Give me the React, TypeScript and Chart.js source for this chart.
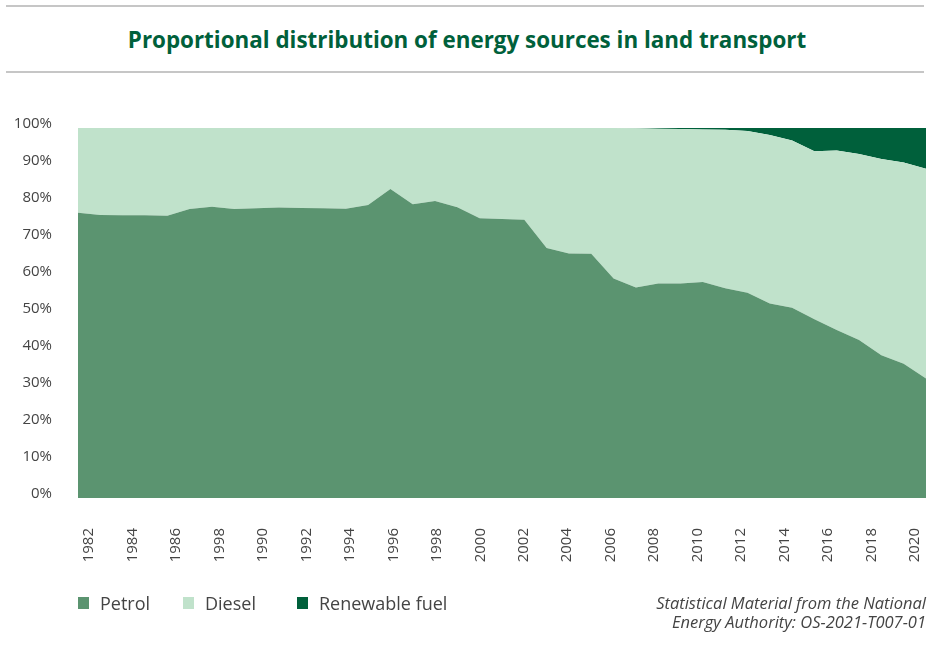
import React, { useEffect, useRef } from "react";
import { Chart, registerables } from "chart.js";

Chart.register(...registerables);

const years = [
  "1982", "1983", "1984", "1985", "1986", "1987", "1988", "1989", "1990", "1991",
  "1992", "1993", "1994", "1995", "1996", "1997", "1998", "1999", "2000", "2001",
  "2002", "2003", "2004", "2005", "2006", "2007", "2008", "2009", "2010", "2011",
  "2012", "2013", "2014", "2015", "2016", "2017", "2018", "2019", "2020",
];

// Axis labels as printed in the source (note the "1998" in place of 1988)
const tickLabels = [
  "1982", "", "1984", "", "1986", "", "1998", "", "1990", "",
  "1992", "", "1994", "", "1996", "", "1998", "", "2000", "",
  "2002", "", "2004", "", "2006", "", "2008", "", "2010", "",
  "2012", "", "2014", "", "2016", "", "2018", "", "2020",
];

const petrol = [
  77.1, 76.5, 76.4, 76.4, 76.3, 78.1, 78.7, 78.1, 78.3, 78.5,
  78.4, 78.3, 78.2, 79.2, 83.5, 79.4, 80.3, 78.6, 75.6, 75.4,
  75.2, 67.6, 66.1, 66.0, 59.3, 56.9, 58.0, 58.0, 58.4, 56.7,
  55.5, 52.6, 51.4, 48.3, 45.4, 42.7, 38.6, 36.3, 32.3,
];

const diesel = [
  22.9, 23.5, 23.6, 23.6, 23.7, 21.9, 21.3, 21.9, 21.7, 21.5,
  21.6, 21.7, 21.8, 20.8, 16.5, 20.6, 19.7, 21.4, 24.4, 24.6,
  24.8, 32.4, 33.9, 34.0, 40.7, 43.0, 41.8, 41.7, 41.2, 42.8,
  43.7, 45.5, 45.2, 45.4, 48.5, 50.3, 53.0, 54.4, 56.7,
];

const renewable = [
  0, 0, 0, 0, 0, 0, 0, 0, 0, 0,
  0, 0, 0, 0, 0, 0, 0, 0, 0, 0,
  0, 0, 0, 0, 0, 0.1, 0.2, 0.3, 0.4, 0.5,
  0.8, 1.9, 3.4, 6.3, 6.1, 7.0, 8.4, 9.3, 11.0,
];

const seriesNames = ["Petrol", "Diesel", "Renewable fuel"];
const seriesColors = ["#5b9470", "#c0e2cb", "#00603b"];

const titleText = "Proportional distribution of energy sources in land transport";
const sourceLines = [
  "Statistical Material from the National",
  "Energy Authority: OS-2021-T007-01",
];

const FONT = "'Open Sans', 'Noto Sans', sans-serif";
const TEXT = "#444444";
const legendLefts = [78, 183, 297];

export default function App() {
  const canvasRef = useRef<HTMLCanvasElement | null>(null);

  useEffect(() => {
    document.body.style.margin = "0";
    const canvas = canvasRef.current;
    if (!canvas) return;
    const seriesData = [petrol, diesel, renewable];
    const chart = new Chart(canvas, {
      type: "line",
      data: {
        labels: years,
        datasets: seriesNames.map((name, i) => ({
          label: name,
          data: seriesData[i],
          backgroundColor: seriesColors[i],
          borderColor: seriesColors[i],
          borderWidth: 0,
          pointRadius: 0,
          tension: 0,
          fill: i === 0 ? "origin" : "-1",
          xAxisID: "x",
          yAxisID: "y",
        })),
      },
      options: {
        responsive: false,
        animation: false,
        layout: { padding: { left: 8, right: 3, top: 128, bottom: 91 } },
        plugins: {
          legend: { display: false },
          tooltip: { enabled: false },
          title: { display: false },
        },
        scales: {
          x: {
            type: "category",
            display: false,
            offset: false,
          },
          xTicks: {
            type: "category",
            labels: tickLabels,
            position: "bottom",
            offset: true,
            grid: { display: false, drawTicks: false },
            border: { display: false },
            ticks: {
              autoSkip: false,
              minRotation: 90,
              maxRotation: 90,
              padding: 30,
              color: TEXT,
              font: { family: FONT, size: 15 },
            },
            afterFit: (s: any) => {
              s.height = 80;
              s.paddingLeft = 0;
              s.paddingRight = 0;
            },
          },
          y: {
            stacked: true,
            min: 0,
            max: 100,
            grid: { display: false, drawTicks: false },
            border: { display: false },
            ticks: {
              stepSize: 10,
              padding: 26,
              labelOffset: -4,
              color: TEXT,
              font: { family: FONT, size: 15 },
              callback: (v: any) => v + "%",
            },
            afterFit: (s: any) => {
              s.width = 70;
              s.paddingTop = 0;
              s.paddingBottom = 0;
            },
          },
        },
      },
    });
    return () => chart.destroy();
  }, []);

  return (
    <div style={{ position: "relative", width: 929, height: 669, background: "#fff", overflow: "hidden" }}>
      <div style={{ position: "absolute", left: 6, top: 5, width: 918, height: 2, background: "#c6c6c6" }} />
      <div
        style={{
          position: "absolute",
          left: 0,
          top: 24,
          width: 934,
          textAlign: "center",
          fontFamily: FONT,
          fontWeight: 700,
          fontSize: 22.4,
          color: "#00603b",
          lineHeight: "32px",
        }}
      >
        {titleText}
      </div>
      <div style={{ position: "absolute", left: 6, top: 71, width: 918, height: 2, background: "#c6c6c6" }} />
      <canvas ref={canvasRef} width={929} height={669} style={{ position: "absolute", left: 0, top: 0, width: 929, height: 669 }} />
      {seriesNames.map((name, i) => (
        <div
          key={name}
          style={{
            position: "absolute",
            left: legendLefts[i],
            top: 591,
            display: "flex",
            alignItems: "center",
            fontFamily: FONT,
            fontSize: 18,
            color: TEXT,
            whiteSpace: "nowrap",
          }}
        >
          <span style={{ display: "inline-block", width: 11, height: 12, background: seriesColors[i], marginRight: 11 }} />
          <span style={{ lineHeight: "24px" }}>{name}</span>
        </div>
      ))}
      <div
        style={{
          position: "absolute",
          right: 3,
          top: 593,
          textAlign: "right",
          fontFamily: FONT,
          fontStyle: "italic",
          fontSize: 16.5,
          lineHeight: "19px",
          color: TEXT,
          whiteSpace: "nowrap",
        }}
      >
        {sourceLines.map((l) => (
          <div key={l}>{l}</div>
        ))}
      </div>
    </div>
  );
}
